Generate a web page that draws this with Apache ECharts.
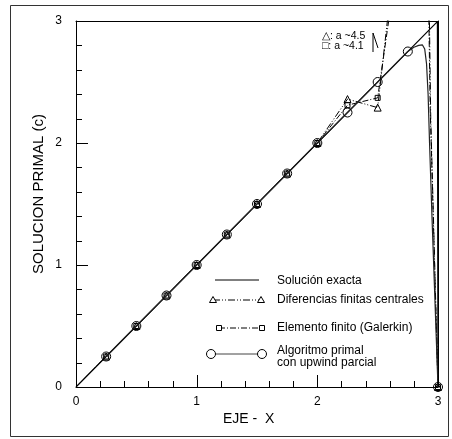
<!DOCTYPE html>
<html><head><meta charset="utf-8">
<script src="https://cdn.jsdelivr.net/npm/echarts/dist/echarts.min.js"></script>
<style>html,body{margin:0;padding:0;background:#fff}#c{width:452px;height:439px}</style>
</head><body><div id="c"></div>
<script>
// ---- data ----
const exactX = [0, 2.995, 3];
const exactY = [0, 2.995, 0];

const primalX = [0.25,0.5,0.75,1,1.25,1.5,1.75,2,2.25,2.5,2.75,2.8,2.84,2.87,2.89,2.905,2.918,2.93,2.95,2.975,3];
const primalY = [0.25,0.5,0.75,1,1.25,1.5,1.75,2,2.25,2.5,2.75,2.785,2.80,2.805,2.77,2.65,2.4,2.0,1.4,0.7,0];

const fdX = [0,0.25,0.5,0.75,1,1.25,1.5,1.75,2,2.25,2.5,2.75,2.925,2.94,3];
const fdY = [0,0.25,0.5,0.75,1,1.25,1.5,1.75,2,2.36,2.29,4.5,3.3,2.2,0];

const feX = [0,0.25,0.5,0.75,1,1.25,1.5,1.75,2,2.25,2.5,2.75,2.92,2.935,3];
const feY = [0,0.25,0.5,0.75,1,1.25,1.5,1.75,2,2.31,2.37,4.1,3.3,2.3,0];

const tickValues = [0,0.2,0.4,0.6,0.8,1,1.2,1.4,1.6,1.8,2,2.2,2.4,2.6,2.8,3];

const legendNames = ['Solución exacta','Diferencias finitas centrales','Elemento finito (Galerkin)','Algoritmo primal','con upwind parcial'];
const noteLines = ['\u25B3: a ~4.5','\u25A1: a ~4.1'];
const xTitle = 'EJE -  X';
const yTitle = 'SOLUCION PRIMAL (c)';

// ---- build ----
const FONT = '"Liberation Sans", Arial, sans-serif';
const L = 76, T = 21, W = 362, H = 366, MAJ = 12, MIN = 6;
const AXMIN = 0, AXMAX = 3;
function pts(xs, ys) {
  return xs.map((x, i) => {
    const isNode = Number.isInteger(Math.round(x * 4000) / 1000) && x > 0;
    return isNode ? { value: [x, ys[i]] } : { value: [x, ys[i]], symbol: 'none' };
  });
}
const chart = echarts.init(document.getElementById('c'));

const mk = { color: 'transparent', borderColor: '#000', borderWidth: 1 };

function legendRow(y, x1, x2, dash, symbol, lineColor) {
  const els = [{
    type: 'line', shape: { x1: x1, y1: y, x2: x2, y2: y },
    style: { stroke: lineColor || '#000', lineWidth: 1, lineDash: dash || null }
  }];
  if (symbol === 'triangle') {
    [x1, x2].forEach(x => els.push({ type: 'polygon', shape: { points: [[x, y - 3.5], [x + 3.5, y + 2.5], [x - 3.5, y + 2.5]] }, style: { fill: '#fff', stroke: '#000', lineWidth: 1 } }));
  } else if (symbol === 'rect') {
    [x1, x2].forEach(x => els.push({ type: 'rect', shape: { x: x - 2.5, y: y - 2.5, width: 5, height: 5 }, style: { fill: '#fff', stroke: '#000', lineWidth: 1 } }));
  } else if (symbol === 'circle') {
    [x1, x2].forEach(x => els.push({ type: 'circle', shape: { cx: x, cy: y, r: 4.5 }, style: { fill: '#fff', stroke: '#000', lineWidth: 1 } }));
  }
  return els;
}
const txt = (x, y, s, size) => ({
  type: 'text', x: x, y: y,
  style: { text: s, fill: '#000', font: size + 'px ' + FONT, textVerticalAlign: 'middle', verticalAlign: 'middle' }
});

// inward axis ticks (axis decoration), placed along the grid edges
const ticks = [];
tickValues.forEach(v => {
  const len = Number.isInteger(Math.round(v * 1000) / 1000) ? MAJ : MIN;
  const f = (v - AXMIN) / (AXMAX - AXMIN);
  const px = Math.round(L + f * W) + 0.5;
  const py = Math.round(T + H - f * H) + 0.5;
  ticks.push({ type: 'line', silent: true, z: 20, shape: { x1: px, y1: T + H, x2: px, y2: T + H - len }, style: { stroke: '#000', lineWidth: 1 } });
  ticks.push({ type: 'line', silent: true, z: 20, shape: { x1: L, y1: py, x2: L + len, y2: py }, style: { stroke: '#000', lineWidth: 1 } });
});

const graphics = [].concat(
  [{ type: 'rect', shape: { x: 10.5, y: 5.5, width: 438, height: 431 }, style: { fill: null, stroke: '#333', lineWidth: 1 }, z: -10, silent: true }],
  ticks,
  legendRow(280, 215, 259, null, null),
  legendRow(300, 213, 261, [7, 2, 1, 2, 1, 2], 'triangle'),
  legendRow(328, 219, 262, [6, 2, 1, 2], 'rect'),
  legendRow(354, 211, 262, null, 'circle', '#444'),
  [
    txt(277, 281, legendNames[0], 12),
    txt(277, 300, legendNames[1], 12),
    txt(277, 328, legendNames[2], 12),
    txt(277, 351, legendNames[3], 12),
    txt(277, 363, legendNames[4], 12),
    txt(322, 36, noteLines[0], 10.5),
    txt(322, 46, noteLines[1], 10.5),
    { type: 'polyline', shape: { points: [[373, 52], [373, 33], [378, 48]] }, style: { stroke: '#000', lineWidth: 1, fill: null } },
    txt(223, 419, xTitle, 14),
    { type: 'text', x: 39, y: 194, rotation: Math.PI / 2,
      style: { text: yTitle, fill: '#000', font: '15px ' + FONT, align: 'center', textAlign: 'center', verticalAlign: 'middle', textVerticalAlign: 'middle' } }
  ]
);

const base = { type: 'value', min: AXMIN, max: AXMAX, interval: 1 };
const off = { show: false };
const lineOn = { show: true, onZero: false, lineStyle: { color: '#000', width: 1 } };
const labelAxis = (pos, margin) => Object.assign({}, base, {
  position: pos, axisLine: lineOn, axisTick: off, minorTick: off, splitLine: off,
  axisLabel: { show: true, color: '#000', fontSize: 12, fontFamily: FONT, margin: margin }
});
const frameAxis = (pos) => Object.assign({}, base, {
  position: pos, axisLine: lineOn, axisTick: off, minorTick: off, axisLabel: off, splitLine: off
});

chart.setOption({
  animation: false,
  grid: { left: L, top: T, width: W, height: H },
  xAxis: [labelAxis('bottom', 9), frameAxis('top')],
  yAxis: [labelAxis('left', 14), frameAxis('right')],
  graphic: graphics,
  series: [
    { name: 'exact', type: 'line', data: exactX.map((x, i) => [x, exactY[i]]), showSymbol: false, symbol: 'none',
      lineStyle: { color: '#000', width: 1.2 }, z: 3 },
    { name: 'fd', type: 'line', data: pts(fdX, fdY), symbol: 'triangle', symbolSize: 7,
      itemStyle: mk, lineStyle: { color: '#000', width: 1, type: [7, 2, 1, 2, 1, 2] }, z: 4 },
    { name: 'fe', type: 'line', data: pts(feX, feY), symbol: 'rect', symbolSize: 5,
      itemStyle: mk, lineStyle: { color: '#000', width: 1, type: [6, 2, 1, 2] }, z: 4 },
    { name: 'primal', type: 'line', data: pts(primalX, primalY), symbol: 'circle', symbolSize: 9,
      itemStyle: mk, lineStyle: { color: '#222', width: 1.2 }, z: 5 }
  ]
});
</script>
</body></html>
